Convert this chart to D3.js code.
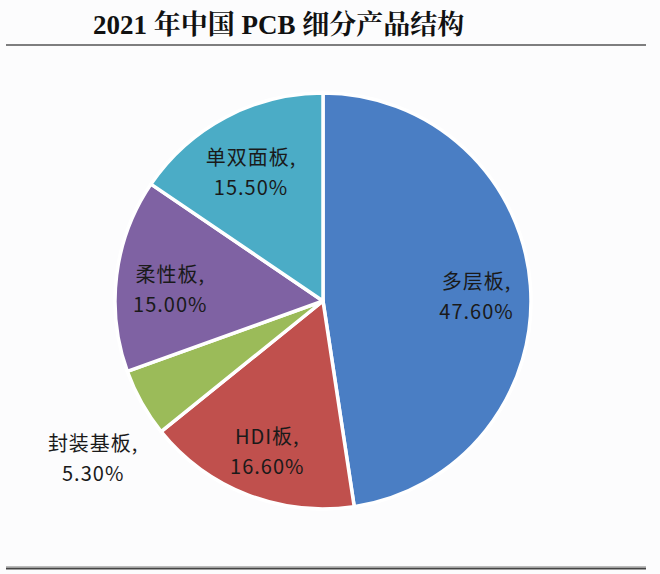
<!DOCTYPE html>
<html>
<head>
<meta charset="utf-8">
<script src="https://cdn.jsdelivr.net/npm/d3@7"></script>
<style>
  html, body { margin: 0; padding: 0; background: #fcfcfd; }
  svg { display: block; }
</style>
</head>
<body>
<svg id="chart" width="660" height="574"></svg>
<script>
const title = "2021 年中国 PCB 细分产品结构";
const categories = ["多层板", "HDI板", "封装基板", "柔性板", "单双面板"];
const values = [47.6, 16.6, 5.3, 15.0, 15.5];
const valueLabels = ["47.60%", "16.60%", "5.30%", "15.00%", "15.50%"];
const colors = ["#4a7ec4", "#c0504d", "#9bbb59", "#7f62a3", "#4bacc6"];
const outsideLabel = [false, false, true, false, false];

const W = 660, H = 574;
const cx = 323, cy = 301, R = 208;

const svg = d3.select("#chart");
svg.append("rect").attr("width", W).attr("height", H).attr("fill", "#fcfcfd");

// Title
svg.append("text")
  .attr("x", 93).attr("y", 34)
  .attr("font-family", "'Liberation Serif', 'Times New Roman', 'Noto Serif CJK SC', 'Noto Sans CJK SC', serif")
  .attr("font-weight", "bold")
  .attr("font-size", 27)
  .attr("fill", "#111")
  .text(title);

// Rules
svg.append("line").attr("x1", 6).attr("x2", 646).attr("y1", 45).attr("y2", 45)
  .attr("stroke", "#555").attr("stroke-width", 1.6);
svg.append("line").attr("x1", 6).attr("x2", 646).attr("y1", 568.5).attr("y2", 568.5)
  .attr("stroke", "#444").attr("stroke-width", 2);
svg.append("line").attr("x1", 6).attr("x2", 646).attr("y1", 566.5).attr("y2", 566.5)
  .attr("stroke", "#bbb").attr("stroke-width", 1);

const data = categories.map((c, i) => ({ name: c, value: values[i], label: valueLabels[i], color: colors[i], outside: outsideLabel[i] }));

const pie = d3.pie().value(d => d.value).sort(null);
const arcs = pie(data);
const arc = d3.arc().innerRadius(0).outerRadius(R);

const g = svg.append("g").attr("transform", `translate(${cx},${cy})`);

g.selectAll("path.slice")
  .data(arcs)
  .join("path")
  .attr("class", "slice")
  .attr("d", arc)
  .attr("fill", d => d.data.color)
  .attr("stroke", "#ffffff")
  .attr("stroke-width", 3.5)
  .attr("stroke-linejoin", "round");

function labelPos(d) {
  if (d.data.outside) {
    const a = d.startAngle + 0.3 * (d.endAngle - d.startAngle);
    const r = R * 1.32;
    return [Math.sin(a) * r, -Math.cos(a) * r];
  }
  const a = (d.startAngle + d.endAngle) / 2;
  const r = R * 0.74;
  return [Math.sin(a) * r, -Math.cos(a) * r];
}

const labels = g.selectAll("text.lbl")
  .data(arcs)
  .join("text")
  .attr("class", "lbl")
  .attr("text-anchor", "middle")
  .attr("font-family", "'Noto Sans CJK SC', 'Noto Sans', sans-serif")
  .attr("font-size", 20)
  .attr("fill", "#1a1a1a");

labels.each(function(d) {
  const [x, y] = labelPos(d);
  const t = d3.select(this);
  t.append("tspan").attr("x", x).attr("y", y).attr("letter-spacing", 1).text(d.data.name + ",");
  t.append("tspan").attr("x", x).attr("y", y + 30).attr("letter-spacing", 1).text(d.data.label);
});
</script>
</body>
</html>
